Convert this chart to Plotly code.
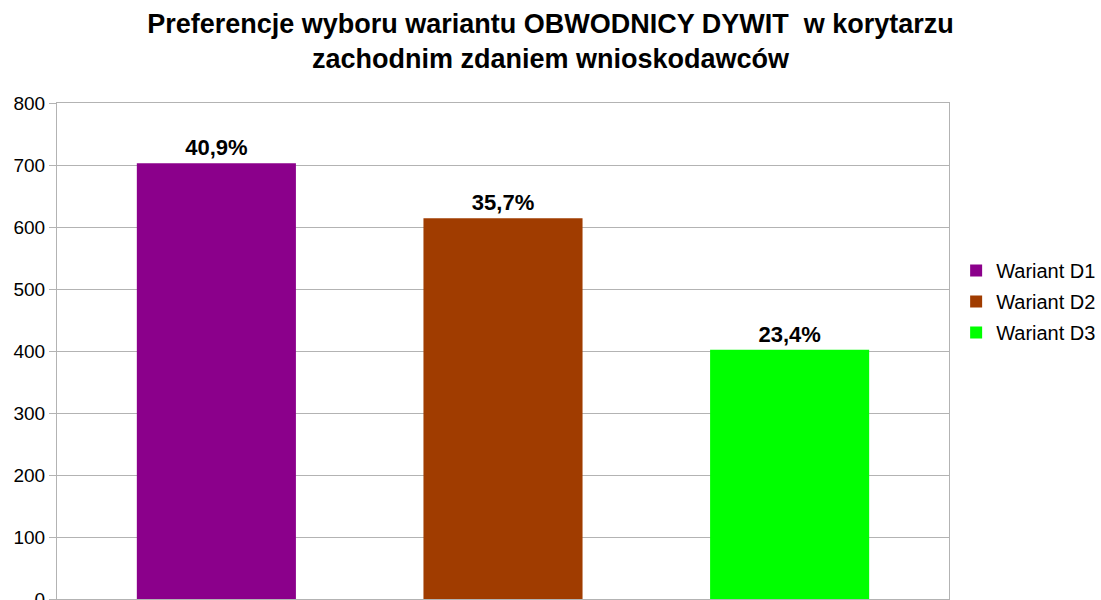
import plotly.graph_objects as go

categories = ["Wariant D1", "Wariant D2", "Wariant D3"]
values = [703, 614, 402]
percent_labels = ["40,9%", "35,7%", "23,4%"]
colors = ["#8b008b", "#a03c00", "#00ff00"]
y_ticks = [0, 100, 200, 300, 400, 500, 600, 700, 800]

fig = go.Figure()
for i, name in enumerate(categories):
    fig.add_trace(go.Bar(
        x=[i], y=[values[i]], name=name, legendgroup=name,
        marker=dict(color=colors[i], line=dict(width=0)),
        width=0.555,
        text=[percent_labels[i]], textposition="outside",
        textfont=dict(family="Liberation Sans, Arial", size=22, color="#000000"),
        texttemplate="<b>%{text}</b>",
        cliponaxis=False,
    ))

fig.update_layout(
    width=1101, height=600,
    margin=dict(l=57, r=152, t=103, b=1, autoexpand=False),
    paper_bgcolor="white", plot_bgcolor="white",
    barmode="overlay",
    title=dict(
        text="<b>Preferencje wyboru wariantu OBWODNICY DYWIT  w korytarzu<br>zachodnim zdaniem wnioskodawców</b>",
        x=0.5, xref="container", xanchor="center",
        y=0.945, yref="container", yanchor="top",
        font=dict(family="Liberation Sans, Arial", size=27, color="#000000"),
    ),
    font=dict(family="Liberation Sans, Arial", size=19, color="#000000"),
    legend=dict(
        x=1.008, xanchor="left", y=0.6, yanchor="middle",
        font=dict(size=20, color="#000000"),
        itemwidth=30, tracegroupgap=2,
    ),
    showlegend=True,
)
fig.update_xaxes(
    range=[-0.556, 2.556], showticklabels=False, showgrid=False,
    zeroline=False, showline=True, linecolor="#b3b3b3", linewidth=1, mirror=True,
    ticks="", automargin=False,
)
fig.update_yaxes(
    range=[0, 800], tickvals=y_ticks, showgrid=True, gridcolor="#b3b3b3", gridwidth=1,
    zeroline=False, showline=True, linecolor="#b3b3b3", linewidth=1, mirror=True,
    ticks="outside", ticklen=7, tickcolor="#b3b3b3", ticklabeloverflow="allow",
    automargin=False,
    tickfont=dict(family="Liberation Sans, Arial", size=19, color="#000000"),
)

fig.write_html(
    "out.html",
    config={"displayModeBar": False},
    post_script="document.body.style.margin='0';document.body.style.overflow='hidden';",
)
